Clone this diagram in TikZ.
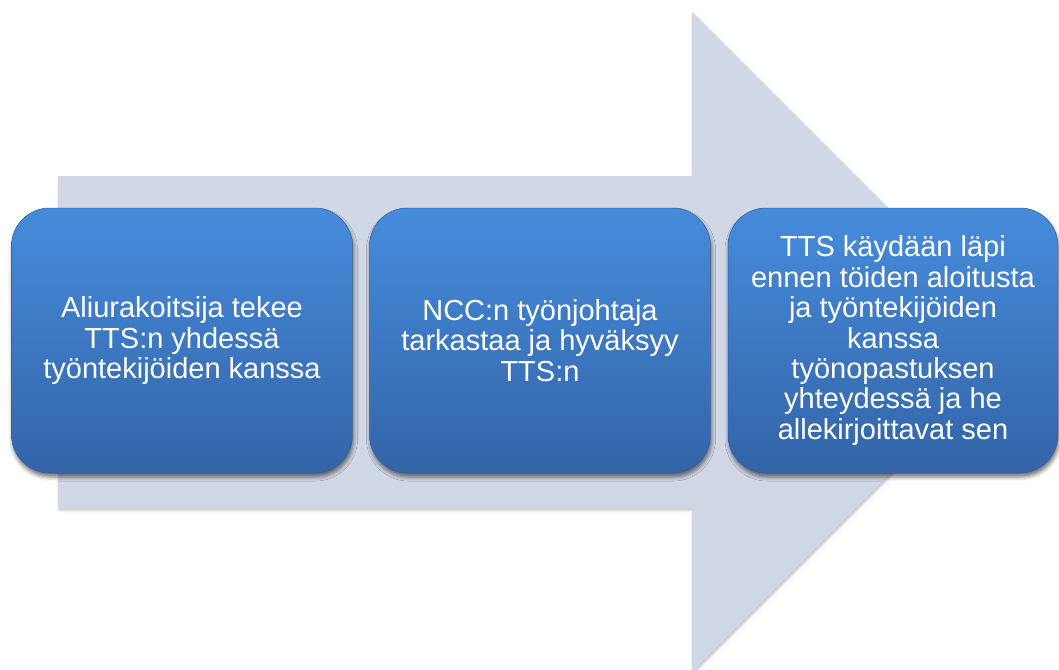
\documentclass[tikz,border=0pt]{standalone}
\usepackage{fontspec}
\setmainfont{Liberation Sans}
\usetikzlibrary{shadows.blur}
\definecolor{arrowfill}{RGB}{208,215,229}
\definecolor{boxtop}{RGB}{70,140,220}
\definecolor{boxbot}{RGB}{51,100,168}
\definecolor{boxedge}{RGB}{48,92,155}
\tikzset{
  stepbox/.style={
    rectangle, rounded corners=38pt, minimum height=265pt,
    top color=boxtop, bottom color=boxbot, draw=boxedge, line width=0.5pt,
    text=white, align=center, inner sep=0pt,
    font=\fontsize{29}{30.4}\selectfont,
    blur shadow={shadow xshift=1pt, shadow yshift=-4pt, shadow blur radius=4pt, shadow opacity=55}
  },
  bigarrow/.style={
    fill=arrowfill,
    blur shadow={shadow xshift=1pt, shadow yshift=-2pt, shadow blur radius=2.5pt, shadow opacity=25}
  }
}
\begin{document}
\begin{tikzpicture}[x=1pt,y=-1pt]
\useasboundingbox (0,0) rectangle (1059,669);
\begin{scope}
\clip (0,0) rectangle (1059,669);
\path[bigarrow] (58,176) -- (692,176) -- (692,12) -- (1022,342) -- (692,672) -- (692,508) -- (58,508) -- cycle;
\node[stepbox, minimum width=341pt] (s1) at (182,340.5)
  {Aliurakoitsija tekee\\TTS:n yhdessä\\työntekijöiden kanssa};
\node[stepbox, minimum width=341pt] (s2) at (540,340.5)
  {NCC:n työnjohtaja\\tarkastaa ja hyväksyy\\TTS:n};
\node[stepbox, minimum width=330pt] (s3) at (893,340.5)
  {TTS käydään läpi\\ennen töiden aloitusta\\ja työntekijöiden\\kanssa\\työnopastuksen\\yhteydessä ja he\\allekirjoittavat sen};
\end{scope}
\end{tikzpicture}
\end{document}
